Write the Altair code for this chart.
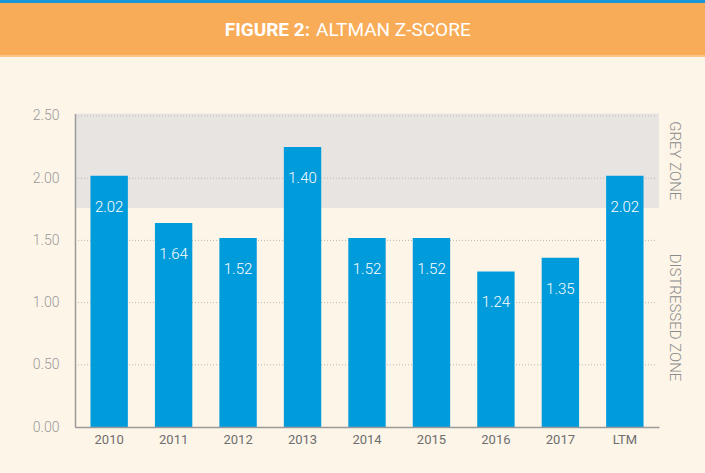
import altair as alt
import pandas as pd

categories = ["2010", "2011", "2012", "2013", "2014", "2015", "2016", "2017", "LTM"]
bar_heights = [2.02, 1.64, 1.52, 2.25, 1.52, 1.52, 1.25, 1.36, 2.02]
bar_labels = ["2.02", "1.64", "1.52", "1.40", "1.52", "1.52", "1.24", "1.35", "2.02"]
y_ticks = [0.0, 0.5, 1.0, 1.5, 2.0, 2.5]
grid_values = [0.5, 1.0, 1.5, 2.0, 2.5]
grey_zone = [1.76, 2.52]
zone_names = ["GREY ZONE", "DISTRESSED ZONE"]
zone_mid = [2.14, 0.88]
title_bold = "FIGURE 2:"
title_rest = "ALTMAN Z-SCORE"

W, H = 584, 313.5
PAD_L, PAD_T = 75, 113.5

bars_df = pd.DataFrame({"cat": categories, "v": bar_heights, "lab": bar_labels})
grid_df = pd.DataFrame({"g": grid_values})
zone_df = pd.DataFrame({"lo": [grey_zone[0]], "hi": [grey_zone[1]]})
names_df = pd.DataFrame({"name": zone_names, "mid": zone_mid})
one = pd.DataFrame({"a": [0]})

yscale = alt.Scale(domain=[0, 2.52], nice=False, zero=True)
yaxis = alt.Axis(values=y_ticks, format=".2f", title=None, ticks=False, grid=False,
                 domainColor="#9a9a9a", domainWidth=1.5, labelColor="#9a9a9a",
                 labelFontSize=14, labelPadding=16, labelFont="Roboto",
                 labelFontWeight=300, zindex=1)
xaxis = alt.Axis(title=None, ticks=False, labelAngle=0, domainColor="#9a9a9a",
                 domainWidth=1.5, labelColor="#6e6e6e", labelFontSize=13,
                 labelPadding=6, labelFont="Roboto", zindex=1)

header = alt.Chart(one).mark_rect(color="#F9AC57").encode(
    x=alt.value(-PAD_L), x2=alt.value(705 - PAD_L),
    y=alt.value(-PAD_T + 2), y2=alt.value(-PAD_T + 55))
header_line = alt.Chart(one).mark_rect(color="#1A96D4").encode(
    x=alt.value(-PAD_L), x2=alt.value(705 - PAD_L),
    y=alt.value(-PAD_T), y2=alt.value(-PAD_T + 3))
header_low = alt.Chart(one).mark_rect(color="#FBC588").encode(
    x=alt.value(-PAD_L), x2=alt.value(705 - PAD_L),
    y=alt.value(-PAD_T + 55), y2=alt.value(-PAD_T + 57))
t1 = alt.Chart(one).mark_text(text=title_bold, color="white", font="Roboto", fontSize=19,
                              fontWeight="bold", align="right", baseline="middle").encode(
    x=alt.value(310 - PAD_L), y=alt.value(30 - PAD_T))
t2 = alt.Chart(one).mark_text(text=title_rest, color="white", font="Roboto", fontSize=19,
                              align="left", baseline="middle").encode(
    x=alt.value(316 - PAD_L), y=alt.value(30 - PAD_T))

band = alt.Chart(zone_df).mark_rect(color="#E8E4E1").encode(
    x=alt.value(0), x2=alt.value(W),
    y=alt.Y("lo:Q", scale=yscale, axis=yaxis), y2="hi:Q")
grid = alt.Chart(grid_df).mark_rule(color="#b9b6b2", strokeDash=[1, 2], strokeWidth=1).encode(
    x=alt.value(0), x2=alt.value(W - 2),
    y=alt.Y("g:Q", scale=yscale, axis=yaxis))
bars = alt.Chart(bars_df).mark_bar(color="#009BDB").encode(
    x=alt.X("cat:N", sort=categories,
            scale=alt.Scale(paddingInner=0.42, paddingOuter=0.24), axis=xaxis),
    y=alt.Y("v:Q", scale=yscale, axis=yaxis))
labels = alt.Chart(bars_df).mark_text(color="white", font="Roboto", fontSize=15,
                                      fontWeight=300, baseline="middle", dy=31).encode(
    x=alt.X("cat:N", sort=categories), y=alt.Y("v:Q", scale=yscale, axis=yaxis),
    text="lab:N")
names = alt.Chart(names_df).mark_text(color="#8a8a8a", font="Roboto", fontSize=15,
                                      fontWeight=300, angle=90, baseline="middle",
                                      align="center").encode(
    x=alt.value(675 - PAD_L), y=alt.Y("mid:Q", scale=yscale, axis=yaxis), text="name:N")

chart = alt.layer(header, header_line, header_low, t1, t2, band, grid, bars, labels, names).properties(
    width=W, height=H,
    autosize=alt.AutoSizeParams(type="none"),
    padding={"left": PAD_L, "top": PAD_T, "right": 705 - PAD_L - W, "bottom": 473 - PAD_T - H},
    background="#FDF5E8",
).configure_view(stroke=None)

chart.save("out.html", embed_options={"renderer": "svg", "actions": False})
